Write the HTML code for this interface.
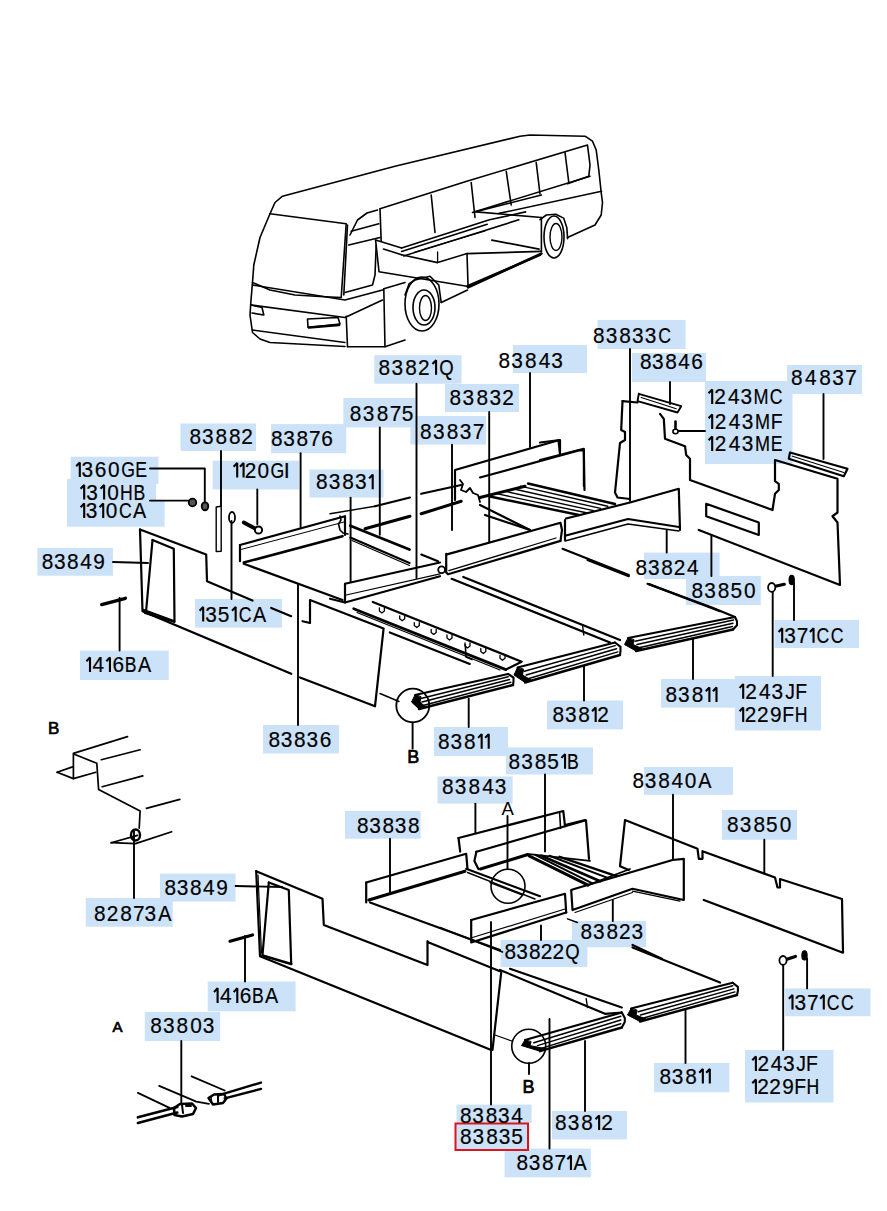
<!DOCTYPE html><html><head><meta charset="utf-8"><style>html,body{margin:0;padding:0;background:#fff;width:887px;height:1211px;overflow:hidden}svg{display:block}text{font-family:"Liberation Sans",sans-serif;font-size:21.5px;fill:#000;stroke:#000;stroke-width:0.2px}</style></head><body>
<svg width="887" height="1211" viewBox="0 0 887 1211">
<rect width="887" height="1211" fill="#fff"/>
<g fill="#cce2f9">
<rect x="374.3" y="355.2" width="87.2" height="28.5"/>
<rect x="513.0" y="345.0" width="74.0" height="28.0"/>
<rect x="597.6" y="320.0" width="87.9" height="29.0"/>
<rect x="632.0" y="353.0" width="74.0" height="29.0"/>
<rect x="705.0" y="381.0" width="87.5" height="83.0"/>
<rect x="787.0" y="365.0" width="75.0" height="29.0"/>
<rect x="445.0" y="384.0" width="74.0" height="28.0"/>
<rect x="343.4" y="398.0" width="71.8" height="29.4"/>
<rect x="410.4" y="416.0" width="75.6" height="28.6"/>
<rect x="180.5" y="423.5" width="75.5" height="27.5"/>
<rect x="271.1" y="424.1" width="75.1" height="29.1"/>
<rect x="309.5" y="469.5" width="74.1" height="28.1"/>
<rect x="70.6" y="456.7" width="87.9" height="27.3"/>
<rect x="67.0" y="479.0" width="89.0" height="26.0"/>
<rect x="67.0" y="500.0" width="97.6" height="26.7"/>
<rect x="212.6" y="460.7" width="86.4" height="28.8"/>
<rect x="37.4" y="548.0" width="75.5" height="27.7"/>
<rect x="644.0" y="552.6" width="75.6" height="26.4"/>
<rect x="686.0" y="576.0" width="74.8" height="29.0"/>
<rect x="195.0" y="599.0" width="87.0" height="28.6"/>
<rect x="774.5" y="620.0" width="84.5" height="28.0"/>
<rect x="80.0" y="650.6" width="88.7" height="29.4"/>
<rect x="734.8" y="676.0" width="86.2" height="54.5"/>
<rect x="661.0" y="679.0" width="75.6" height="28.7"/>
<rect x="547.0" y="700.5" width="76.0" height="28.9"/>
<rect x="263.0" y="725.0" width="76.0" height="28.5"/>
<rect x="434.0" y="727.0" width="74.0" height="29.0"/>
<rect x="506.0" y="747.4" width="87.0" height="27.1"/>
<rect x="437.5" y="776.5" width="75.1" height="27.1"/>
<rect x="644.0" y="767.0" width="89.0" height="27.8"/>
<rect x="345.0" y="811.0" width="75.6" height="27.7"/>
<rect x="722.0" y="810.0" width="75.0" height="29.8"/>
<rect x="160.0" y="873.6" width="75.6" height="28.0"/>
<rect x="85.8" y="898.0" width="86.9" height="28.7"/>
<rect x="572.0" y="921.0" width="74.0" height="26.3"/>
<rect x="500.5" y="940.0" width="86.9" height="27.0"/>
<rect x="207.7" y="981.5" width="87.9" height="29.8"/>
<rect x="785.2" y="988.4" width="85.3" height="27.8"/>
<rect x="144.8" y="1012.0" width="75.4" height="29.0"/>
<rect x="654.0" y="1063.0" width="75.4" height="29.3"/>
<rect x="745.0" y="1050.0" width="88.5" height="52.5"/>
<rect x="456.5" y="1104.6" width="75.1" height="18.4"/>
<rect x="552.0" y="1111.0" width="75.0" height="28.4"/>
<rect x="504.5" y="1148.6" width="86.3" height="28.7"/>
</g>
<rect x="455.5" y="1123.5" width="72.5" height="26.5" fill="#cce2f9" stroke="#e0151b" stroke-width="2"/>
<g stroke="#000" fill="none" stroke-linecap="round" stroke-linejoin="round">
<polyline points="416.5,383.7 416.5,578.0" stroke-width="1.9"/>
<polyline points="530.0,373.0 530.0,447.0" stroke-width="1.9"/>
<polyline points="630.0,349.0 630.0,501.0" stroke-width="1.9"/>
<polyline points="670.0,382.0 670.0,404.0" stroke-width="1.9"/>
<polyline points="678.0,431.0 705.0,431.0" stroke-width="1.9"/>
<polyline points="823.5,394.0 823.5,459.0" stroke-width="1.9"/>
<polyline points="489.2,412.0 489.2,541.7" stroke-width="1.9"/>
<polyline points="379.8,427.4 379.8,534.8" stroke-width="1.9"/>
<polyline points="452.0,444.6 452.0,530.0" stroke-width="1.9"/>
<polyline points="221.0,451.0 221.0,506.0" stroke-width="1.9"/>
<polyline points="300.6,453.2 300.6,527.0" stroke-width="1.9"/>
<polyline points="350.6,497.6 350.6,582.0" stroke-width="1.9"/>
<polyline points="150.0,468.5 204.8,468.5 204.8,501.0" stroke-width="1.9"/>
<polyline points="150.0,500.6 189.0,500.6" stroke-width="1.9"/>
<polyline points="257.3,489.5 257.3,524.4" stroke-width="1.9"/>
<polyline points="113.0,562.0 148.0,563.0" stroke-width="1.9"/>
<polyline points="666.7,552.6 666.7,530.0" stroke-width="1.9"/>
<polyline points="711.4,576.0 711.4,535.0" stroke-width="1.9"/>
<polyline points="231.5,599.0 231.5,521.0" stroke-width="1.9"/>
<polyline points="794.0,620.0 794.0,582.6" stroke-width="1.9"/>
<polyline points="119.6,650.6 119.6,598.0" stroke-width="1.9"/>
<polyline points="772.7,676.0 772.7,588.7" stroke-width="1.9"/>
<polyline points="693.0,679.0 693.0,639.0" stroke-width="1.9"/>
<polyline points="584.0,700.5 584.0,666.0" stroke-width="1.9"/>
<polyline points="298.0,725.0 298.0,584.0" stroke-width="1.9"/>
<polyline points="468.7,727.0 468.7,698.7" stroke-width="1.9"/>
<polyline points="412.6,722.4 412.6,748.5" stroke-width="1.9"/>
<polyline points="545.0,774.5 545.0,851.6" stroke-width="1.9"/>
<polyline points="475.4,803.6 475.4,833.0" stroke-width="1.9"/>
<polyline points="390.0,838.7 390.0,892.0" stroke-width="1.9"/>
<polyline points="507.5,816.0 507.5,869.0" stroke-width="1.9"/>
<polyline points="673.0,794.8 673.0,859.0" stroke-width="1.9"/>
<polyline points="764.3,839.8 764.3,873.6" stroke-width="1.9"/>
<polyline points="235.6,886.0 282.0,887.0" stroke-width="1.9"/>
<polyline points="134.0,898.0 134.0,830.6" stroke-width="1.9"/>
<polyline points="612.8,921.0 612.8,900.0" stroke-width="1.9"/>
<polyline points="541.0,940.0 541.0,925.4" stroke-width="1.9"/>
<polyline points="245.0,981.5 245.0,936.0" stroke-width="1.9"/>
<polyline points="807.1,988.4 807.1,958.4" stroke-width="1.9"/>
<polyline points="783.2,1050.0 783.2,960.4" stroke-width="1.9"/>
<polyline points="181.3,1041.0 181.3,1103.0" stroke-width="1.9"/>
<polyline points="685.5,1063.0 685.5,1010.0" stroke-width="1.9"/>
<polyline points="491.0,1104.6 491.0,922.0" stroke-width="1.9"/>
<polyline points="585.0,1111.0 585.0,1041.0" stroke-width="1.9"/>
<polyline points="549.5,1148.6 549.5,1019.0" stroke-width="1.9"/>
<polyline points="529.0,1063.0 529.0,1074.0" stroke-width="1.9"/>
<polyline points="140.0,529.5 206.2,554.5 207.0,581.2 252.5,600.5" stroke-width="2.2"/>
<polyline points="271.2,608.0 291.2,616.2" stroke-width="2.2"/>
<polyline points="302.5,621.2 310.0,623.0 310.0,600.0 383.6,628.5 375.0,706.3 300.0,677.5" stroke-width="2.2"/>
<polyline points="140.0,529.5 142.5,611.2 291.2,673.8" stroke-width="2.2"/>
<polyline points="152.5,540.0 173.8,548.8 174.5,621.2 143.8,610.0" stroke-width="2.2"/>
<polyline points="152.5,540.0 146.2,610.0" stroke-width="2.2"/>
<polyline points="145.0,613.0 174.5,622.0" stroke-width="2.2"/>
<polyline points="240.0,545.0 345.0,516.2 345.0,535.0" stroke-width="2.2"/>
<polyline points="240.0,545.0 240.0,561.2" stroke-width="2.2"/>
<polyline points="243.8,562.5 342.5,536.2" stroke-width="2.6"/>
<polyline points="241.0,549.5 344.0,522.0" stroke-width="1.0"/>
<polyline points="243.8,563.8 342.5,600.0" stroke-width="2.2"/>
<polyline points="243.8,522.5 256.0,529.0" stroke-width="3.8"/>
<polyline points="216.2,507.0 221.2,506.2 221.2,551.2 216.2,551.5 216.2,507.0" stroke-width="1.4"/>
<polyline points="330.0,513.8 375.0,506.2" stroke-width="1.4"/>
<polyline points="375.0,506.2 410.0,497.5" stroke-width="2.2"/>
<polyline points="365.0,528.8 410.0,516.2" stroke-width="3.0"/>
<polyline points="421.2,493.8 461.2,485.0" stroke-width="2.2"/>
<polyline points="421.2,513.8 461.2,501.2" stroke-width="3.0"/>
<polyline points="350.3,525.8 409.5,549.5" stroke-width="2.8"/>
<polyline points="350.3,537.6 409.5,563.0" stroke-width="2.2"/>
<polyline points="352.0,540.5 409.5,565.5" stroke-width="1.2"/>
<polyline points="421.3,554.6 438.0,561.3" stroke-width="2.2"/>
<polyline points="340.0,516.0 341.0,520.0 338.5,524.0 340.0,530.0 343.0,533.0 348.0,534.0" stroke-width="1.6"/>
<polyline points="460.0,480.0 463.0,484.0 461.0,490.0 466.0,492.0 470.0,488.0 473.0,493.0 478.0,495.0 480.0,502.0" stroke-width="1.8"/>
<polyline points="345.0,583.8 440.0,562.5" stroke-width="2.2"/>
<polyline points="345.0,583.8 345.0,602.5 440.0,576.2" stroke-width="2.2"/>
<polyline points="346.2,595.0 440.0,573.8" stroke-width="1.2"/>
<polyline points="330.0,598.8 345.0,602.5" stroke-width="2.2"/>
<polyline points="447.0,554.4 560.5,522.8 562.0,530.0 560.5,540.9" stroke-width="2.2"/>
<polyline points="446.2,553.8 446.2,572.5 448.0,574.3 560.5,540.9" stroke-width="2.2"/>
<polyline points="448.9,570.7 556.0,538.0" stroke-width="1.3"/>
<polyline points="455.0,500.0 455.0,470.0 558.5,440.3 560.0,453.8" stroke-width="2.2"/>
<polyline points="480.0,477.5 578.8,450.4 583.9,450.4 583.9,486.0" stroke-width="2.2"/>
<polyline points="480.0,497.5 525.0,486.2" stroke-width="3.0"/>
<polyline points="480.0,505.0 530.0,530.0" stroke-width="2.2"/>
<polyline points="485.0,515.0 530.0,530.0" stroke-width="2.2"/>
<polyline points="353.7,608.7 505.9,669.6" stroke-width="2.8"/>
<polyline points="357.0,612.5 500.0,670.0" stroke-width="1.2"/>
<polyline points="372.8,601.9 521.7,661.7 505.9,669.6" stroke-width="2.2"/>
<polyline points="389.8,632.4 469.8,663.9" stroke-width="2.2"/>
<polyline points="379.4,607.9 379.4,610.9 381.9,612.9 384.4,610.9 384.4,607.9" stroke-width="1.3"/>
<polyline points="399.7,615.8 399.7,618.8 402.2,620.8 404.7,618.8 404.7,615.8" stroke-width="1.3"/>
<polyline points="414.3,622.6 414.3,625.6 416.8,627.6 419.3,625.6 419.3,622.6" stroke-width="1.3"/>
<polyline points="431.2,629.4 431.2,632.4 433.7,634.4 436.2,632.4 436.2,629.4" stroke-width="1.3"/>
<polyline points="447.0,635.0 447.0,638.0 449.5,640.0 452.0,638.0 452.0,635.0" stroke-width="1.3"/>
<polyline points="465.0,642.9 465.0,645.9 467.5,647.9 470.0,645.9 470.0,642.9" stroke-width="1.3"/>
<polyline points="480.8,648.5 480.8,651.5 483.3,653.5 485.8,651.5 485.8,648.5" stroke-width="1.3"/>
<polyline points="500.0,655.3 500.0,658.3 502.5,660.3 505.0,658.3 505.0,655.3" stroke-width="1.3"/>
<polyline points="465.3,644.8 466.0,657.0 472.0,659.4" stroke-width="1.6"/>
<polyline points="622.5,401.2 621.2,430.0 625.0,432.0 625.0,440.0 620.0,443.0 615.0,492.5 617.5,497.5 630.0,499.0" stroke-width="2.2"/>
<polyline points="622.5,401.2 637.5,402.5" stroke-width="2.2"/>
<polyline points="660.0,413.8 663.8,418.8 665.0,438.8 685.0,446.2 686.2,455.0 690.0,458.8 690.0,480.0 772.5,510.0 775.0,493.8 778.8,490.0 778.8,483.8 775.0,481.2 775.0,460.0 837.5,478.8 837.5,512.5 832.5,516.2 837.5,522.5 840.0,585.0 698.8,530.0" stroke-width="2.2"/>
<polyline points="638.8,393.8 681.2,406.2 677.5,412.5 637.5,401.2 638.8,393.8" stroke-width="1.9"/>
<polyline points="641.2,397.5 676.2,408.8" stroke-width="1.2"/>
<polyline points="675.5,421.5 675.5,430.0" stroke-width="2.6"/>
<polyline points="566.0,518.5 630.0,502.5 678.8,488.8 680.0,530.0" stroke-width="2.2"/>
<polyline points="566.0,535.5 628.0,519.0 679.0,527.0" stroke-width="2.2"/>
<polyline points="565.0,541.0 628.0,524.0 679.0,531.0" stroke-width="1.4"/>
<polyline points="565.0,520.0 565.0,540.0" stroke-width="2.2"/>
<polyline points="706.2,503.8 758.8,522.5 758.8,535.0 706.2,516.2 706.2,503.8" stroke-width="2.2"/>
<polyline points="562.5,548.8 628.8,575.0" stroke-width="2.2"/>
<polyline points="648.9,584.1 720.0,611.2" stroke-width="2.2"/>
<polyline points="540.0,442.5 560.0,440.0 560.0,452.5" stroke-width="2.2"/>
<polyline points="540.0,460.0 583.8,448.8 584.5,490.0" stroke-width="2.2"/>
<polyline points="528.0,483.5 615.0,504.0" stroke-width="2.4"/>
<polyline points="520.4,486.1 607.8,506.2" stroke-width="1.4"/>
<polyline points="512.8,488.7 600.6,508.4" stroke-width="1.4"/>
<polyline points="505.2,491.3 593.4,510.6" stroke-width="1.4"/>
<polyline points="497.6,493.9 586.2,512.8" stroke-width="1.4"/>
<polyline points="490.0,496.5 579.0,515.0" stroke-width="2.4"/>
<polyline points="790.0,452.5 847.5,468.8 843.8,476.2 788.8,458.8 790.0,452.5" stroke-width="2.2"/>
<polyline points="792.5,456.2 843.8,472.5" stroke-width="1.2"/>
<polyline points="517.5,667.5 615.0,642.5" stroke-width="2.1"/>
<polyline points="525.0,682.5 620.0,655.0" stroke-width="2.4"/>
<polyline points="524.4,671.2 615.2,645.6" stroke-width="1.5"/>
<polyline points="526.2,675.0 616.5,648.8" stroke-width="1.5"/>
<polyline points="528.1,678.8 617.8,651.9" stroke-width="1.5"/>
<polyline points="615.0,642.5 620.5,646.8 620.5,650.8 620.0,655.0" stroke-width="2.1"/>
<polyline points="628.0,638.0 735.0,617.0" stroke-width="2.1"/>
<polyline points="636.0,651.0 733.0,629.5" stroke-width="2.4"/>
<polyline points="635.0,641.2 733.5,620.1" stroke-width="1.5"/>
<polyline points="637.0,644.5 733.0,623.2" stroke-width="1.5"/>
<polyline points="639.0,647.8 732.5,626.4" stroke-width="1.5"/>
<polyline points="735.0,617.0 737.0,621.2 737.0,625.2 733.0,629.5" stroke-width="2.1"/>
<polyline points="415.0,695.0 508.0,674.0" stroke-width="2.1"/>
<polyline points="419.0,709.0 513.0,685.0" stroke-width="2.4"/>
<polyline points="421.0,698.5 508.2,676.8" stroke-width="1.5"/>
<polyline points="422.0,702.0 509.5,679.5" stroke-width="1.5"/>
<polyline points="423.0,705.5 510.8,682.2" stroke-width="1.5"/>
<polyline points="508.0,674.0 513.5,677.5 513.5,681.5 513.0,685.0" stroke-width="2.1"/>
<polyline points="463.3,577.0 620.0,640.0" stroke-width="2.2"/>
<polyline points="451.6,578.8 610.0,642.5" stroke-width="2.2"/>
<polyline points="582.5,625.0 583.8,635.0" stroke-width="1.4"/>
<polyline points="587.5,560.0 628.8,576.2" stroke-width="2.2"/>
<polyline points="647.5,583.8 711.8,607.5 735.0,617.0" stroke-width="2.2"/>
<polyline points="772.0,587.0 784.3,584.3" stroke-width="3.2"/>
<polyline points="783.0,960.4 795.4,956.4" stroke-width="3.2"/>
<polyline points="57.1,772.3 72.5,766.9" stroke-width="1.7"/>
<polyline points="57.1,772.3 73.4,778.6 95.9,772.3" stroke-width="1.7"/>
<polyline points="73.4,778.6 73.4,753.4 127.5,736.6" stroke-width="1.7"/>
<polyline points="74.3,754.3 96.8,763.3 98.6,789.4 140.1,811.1 139.2,828.2" stroke-width="1.7"/>
<polyline points="101.3,759.7 140.1,749.8" stroke-width="1.7"/>
<polyline points="102.2,786.7 142.8,775.9" stroke-width="1.7"/>
<polyline points="146.4,808.4 179.8,799.4" stroke-width="1.7"/>
<polyline points="111.2,842.7 137.4,835.4" stroke-width="1.7"/>
<polyline points="111.2,842.7 135.6,843.6 171.7,831.8" stroke-width="1.7"/>
<polyline points="101.7,604.6 125.4,598.3" stroke-width="3.4"/>
<polyline points="380.0,693.5 399.0,701.5" stroke-width="1.5"/>
<polyline points="256.2,871.2 322.5,898.8 323.8,925.0 427.5,965.0 427.5,941.2 428.8,942.5 500.0,971.2" stroke-width="2.2"/>
<polyline points="256.2,871.2 260.0,956.2 491.2,1050.0" stroke-width="2.2"/>
<polyline points="268.8,882.5 288.8,890.0 291.2,963.8" stroke-width="2.2"/>
<polyline points="268.8,882.5 262.5,955.0" stroke-width="2.2"/>
<polyline points="262.5,955.5 291.2,964.0" stroke-width="2.6"/>
<polyline points="258.0,875.0 261.5,953.0" stroke-width="1.2"/>
<polyline points="501.2,972.5 492.5,1050.0" stroke-width="2.2"/>
<polyline points="230.0,941.2 252.5,935.0" stroke-width="3.2"/>
<polyline points="366.2,882.5 466.2,853.8 467.5,868.8" stroke-width="2.2"/>
<polyline points="366.2,882.5 366.2,902.5" stroke-width="2.2"/>
<polyline points="368.8,900.0 465.0,871.2" stroke-width="3.0"/>
<polyline points="370.0,902.5 500.0,950.0" stroke-width="2.2"/>
<polyline points="458.5,838.0 563.3,811.0 565.0,826.2" stroke-width="2.2"/>
<polyline points="458.5,838.0 460.2,851.6" stroke-width="2.2"/>
<polyline points="476.4,851.7 586.0,820.3 589.0,858.8" stroke-width="2.2"/>
<polyline points="476.4,851.7 474.4,860.9 478.4,869.0" stroke-width="2.2"/>
<polyline points="480.4,869.0 527.1,854.8" stroke-width="3.0"/>
<polyline points="527.1,853.8 590.0,860.9" stroke-width="1.8"/>
<polyline points="529.1,855.8 588.0,885.2" stroke-width="3.0"/>
<polyline points="535.2,854.8 592.0,883.2" stroke-width="2.0"/>
<polyline points="541.3,855.8 600.2,881.2" stroke-width="2.6"/>
<polyline points="549.4,855.8 608.3,878.1" stroke-width="2.0"/>
<polyline points="559.6,856.8 616.4,876.1" stroke-width="2.4"/>
<polyline points="588.0,885.2 630.0,869.0" stroke-width="1.8"/>
<polyline points="559.6,812.2 560.6,828.4" stroke-width="1.6"/>
<polyline points="466.2,868.8 540.0,896.2" stroke-width="2.2"/>
<polyline points="467.5,872.5 535.0,899.0" stroke-width="1.4"/>
<polyline points="490.0,882.5 522.5,895.0" stroke-width="1.4"/>
<polyline points="471.2,920.0 565.0,893.8 566.2,912.5" stroke-width="2.2"/>
<polyline points="471.2,920.0 471.2,942.5 566.2,912.5" stroke-width="2.2"/>
<polyline points="472.5,937.5 565.0,909.0" stroke-width="1.2"/>
<polyline points="571.2,890.0 575.0,888.8 672.5,860.0 683.8,858.8 683.8,900.0 632.5,888.8 572.5,910.0 571.2,890.0" stroke-width="2.2"/>
<polyline points="632.5,891.2 680.0,901.2" stroke-width="1.2"/>
<polyline points="575.0,912.5 632.5,892.5" stroke-width="1.2"/>
<polyline points="628.8,870.0 620.0,866.2 625.0,820.0 697.5,848.8 698.8,858.8 702.5,858.8 702.5,851.2 775.0,877.5 777.5,887.5 780.0,887.5 780.0,879.0 842.0,899.0 843.0,952.7 703.8,900.0" stroke-width="2.2"/>
<polyline points="585.0,820.0 565.0,825.0" stroke-width="2.2"/>
<polyline points="440.0,927.5 502.5,952.0" stroke-width="1.6"/>
<polyline points="500.0,970.0 605.0,1013.8 621.8,1012.5" stroke-width="2.2"/>
<polyline points="510.0,968.8 621.8,1007.5" stroke-width="2.2"/>
<polyline points="586.2,998.8 587.5,1007.5" stroke-width="1.4"/>
<polyline points="632.5,947.5 720.0,982.5" stroke-width="2.2"/>
<polyline points="632.5,945.0 661.8,958.8" stroke-width="2.2"/>
<polyline points="567.5,918.8 577.5,922.5" stroke-width="1.4"/>
<polyline points="495.0,1035.0 512.5,1041.2" stroke-width="1.2"/>
<polyline points="525.0,1040.0 621.8,1012.5" stroke-width="2.1"/>
<polyline points="540.0,1051.2 621.8,1027.5" stroke-width="2.4"/>
<polyline points="533.8,1042.8 620.8,1016.2" stroke-width="1.5"/>
<polyline points="537.5,1045.6 620.8,1020.0" stroke-width="1.5"/>
<polyline points="541.2,1048.4 620.8,1023.8" stroke-width="1.5"/>
<polyline points="621.8,1012.5 624.8,1018.0 624.8,1022.0 621.8,1027.5" stroke-width="2.1"/>
<polyline points="631.0,1008.5 732.7,982.7" stroke-width="2.1"/>
<polyline points="640.0,1021.5 737.0,995.0" stroke-width="2.4"/>
<polyline points="638.2,1011.8 732.8,985.8" stroke-width="1.5"/>
<polyline points="640.5,1015.0 733.9,988.9" stroke-width="1.5"/>
<polyline points="642.8,1018.2 734.9,991.9" stroke-width="1.5"/>
<polyline points="732.7,982.7 737.9,986.9 737.9,990.9 737.0,995.0" stroke-width="2.1"/>
<polyline points="137.9,1117.3 177.3,1107.1" stroke-width="2.6"/>
<polyline points="137.9,1122.9 177.3,1112.6" stroke-width="2.6"/>
<polyline points="137.9,1092.9 169.5,1107.9" stroke-width="1.8"/>
<polyline points="159.2,1085.8 196.3,1101.6 208.9,1103.9" stroke-width="1.8"/>
<polyline points="191.6,1076.3 224.7,1090.5" stroke-width="1.8"/>
<polyline points="218.4,1095.3 261.0,1082.6" stroke-width="2.4"/>
<polyline points="224.7,1098.4 261.0,1088.9" stroke-width="2.4"/>
<polyline points="174.0,1108.0 180.0,1104.0 192.0,1103.5 196.0,1108.0 193.0,1114.0 182.0,1116.5 174.5,1115.0 174.0,1108.0" stroke-width="2.6"/>
<polyline points="182.0,1105.0 183.0,1113.0" stroke-width="2.0"/>
<polyline points="186.0,1106.0 191.0,1106.0" stroke-width="2.0"/>
<polyline points="208.5,1098.0 214.0,1094.5 224.0,1094.0 226.5,1098.5 223.0,1103.0 213.0,1104.5 208.5,1098.0" stroke-width="2.4"/>
<polyline points="218.0,1095.5 218.0,1102.0" stroke-width="2.0"/>
<polyline points="211.0,1097.0 211.5,1101.5" stroke-width="1.4"/>
<polyline points="270.0,213.8 275.0,202.5 282.5,196.2 395.0,166.2 520.0,136.2 530.0,135.0 585.0,136.2 592.5,141.2 596.2,150.0 598.8,170.0 601.2,192.5 602.5,202.5 601.2,215.0 595.0,225.0 567.5,237.5" stroke-width="1.6"/>
<polyline points="380.0,208.8 466.8,181.2 587.5,145.0 590.0,165.0 588.8,176.2 567.5,183.8" stroke-width="1.6"/>
<polyline points="472.5,212.5 590.0,176.2" stroke-width="1.6"/>
<polyline points="499.0,213.4 601.5,191.3" stroke-width="1.6"/>
<polyline points="431.2,195.0 435.0,232.5" stroke-width="1.6"/>
<polyline points="471.2,182.5 475.0,217.5" stroke-width="1.6"/>
<polyline points="506.2,171.2 511.2,205.0" stroke-width="1.6"/>
<polyline points="536.2,162.5 540.0,193.8" stroke-width="1.6"/>
<polyline points="565.0,152.5 568.8,182.5" stroke-width="1.6"/>
<polyline points="270.0,213.8 346.2,223.8 341.2,297.5 320.0,296.5 295.0,295.0 270.0,290.0 252.5,282.5" stroke-width="1.6"/>
<polyline points="270.0,213.8 260.0,237.5 253.8,265.0 252.5,282.5 251.0,300.0 250.0,315.0 252.5,332.5 260.0,339.0 270.0,342.5 345.0,346.5" stroke-width="1.6"/>
<polyline points="347.5,225.0 343.8,295.0" stroke-width="1.6"/>
<polyline points="350.0,235.0 357.5,220.0 367.0,213.0 377.5,210.0" stroke-width="1.6"/>
<polyline points="351.2,231.2 378.8,223.8" stroke-width="1.6"/>
<polyline points="348.8,245.0 380.0,237.5" stroke-width="1.6"/>
<polyline points="345.0,292.5 372.5,285.0 375.0,275.0 376.2,245.0" stroke-width="1.6"/>
<polyline points="380.0,208.8 381.2,241.2" stroke-width="1.6"/>
<polyline points="252.5,285.0 345.0,300.0 382.5,290.0" stroke-width="1.6"/>
<polyline points="251.2,305.0 345.0,317.5 382.5,300.0" stroke-width="1.6"/>
<polyline points="252.5,330.0 345.0,342.5" stroke-width="1.6"/>
<polyline points="346.2,316.2 347.5,346.8" stroke-width="1.6"/>
<polyline points="251.2,305.0 262.0,307.5 263.8,315.0 252.0,313.0" stroke-width="1.6"/>
<polyline points="307.5,319.0 338.0,317.5 340.0,324.0 308.0,327.5 307.5,319.0" stroke-width="1.6"/>
<polyline points="309.0,327.5 339.0,325.0" stroke-width="2.6"/>
<polyline points="383.8,288.8 385.0,346.8" stroke-width="1.6"/>
<polyline points="383.8,288.8 405.0,282.5" stroke-width="1.6"/>
<polyline points="347.5,346.8 385.0,346.8 405.0,340.0" stroke-width="1.6"/>
<polyline points="405.0,295.0 409.0,284.0 415.0,280.0 430.0,276.2 438.8,285.0 441.2,302.5" stroke-width="1.6"/>
<polyline points="441.2,302.5 467.5,290.0" stroke-width="1.6"/>
<polyline points="467.5,286.2 540.0,255.0" stroke-width="2.4"/>
<polyline points="540.0,219.7 546.3,215.0 555.8,214.2 563.6,218.1 566.8,227.6 567.6,238.6" stroke-width="1.6"/>
<polyline points="375.6,240.1 379.0,271.7 467.0,286.3" stroke-width="1.6"/>
<polyline points="375.6,240.1 401.6,248.0" stroke-width="1.6"/>
<polyline points="383.5,249.1 401.6,254.8" stroke-width="1.6"/>
<polyline points="401.6,248.0 489.5,219.8 525.6,211.9" stroke-width="1.6"/>
<polyline points="401.6,251.4 487.2,224.3" stroke-width="1.6"/>
<polyline points="403.8,255.9 518.8,219.8" stroke-width="1.6"/>
<polyline points="415.0,252.0 485.0,231.0" stroke-width="1.3"/>
<polyline points="401.6,254.8 437.6,262.6 467.0,253.6 541.4,251.4" stroke-width="1.6"/>
<polyline points="467.0,253.6 468.1,287.4" stroke-width="1.6"/>
<polyline points="468.1,287.4 541.4,253.6" stroke-width="2.6"/>
<polyline points="491.8,240.1 539.1,249.1" stroke-width="1.6"/>
<polyline points="476.0,211.9 541.4,217.5" stroke-width="1.6"/>
<polyline points="541.4,217.5 541.4,251.4" stroke-width="1.6"/>
<polyline points="437.6,262.6 437.6,252.0" stroke-width="1.3"/>
<polyline points="474.8,211.9 541.4,195.0" stroke-width="1.6"/>
<polygon points="517.5,667.5 514.0,675.0 525.0,682.5 531.0,680.0 522.5,675.0 523.5,669.5" fill="#000" stroke-width="1"/>
<polygon points="628.0,638.0 624.5,644.5 636.0,651.0 642.0,648.5 633.0,644.5 634.0,640.0" fill="#000" stroke-width="1"/>
<polygon points="415.0,695.0 411.5,702.0 419.0,709.0 425.0,706.5 420.0,702.0 421.0,697.0" fill="#000" stroke-width="1"/>
<polygon points="525.0,1040.0 521.5,1045.6 540.0,1051.2 546.0,1048.8 530.0,1045.6 531.0,1042.0" fill="#000" stroke-width="1"/>
<polygon points="631.0,1008.5 627.5,1015.0 640.0,1021.5 646.0,1019.0 636.0,1015.0 637.0,1010.5" fill="#000" stroke-width="1"/>
<ellipse cx="192.5" cy="502.5" rx="3.8" ry="3.8" stroke-width="1.8" fill="#555"/>
<ellipse cx="205" cy="506.25" rx="3.3" ry="4" stroke-width="1.8" fill="#555"/>
<ellipse cx="232" cy="517.5" rx="3" ry="5.5" stroke-width="1.8" fill="none"/>
<ellipse cx="258.5" cy="530" rx="3.6" ry="3.6" stroke-width="2" fill="#fff"/>
<ellipse cx="441.6" cy="569.8" rx="3.4" ry="3.4" stroke-width="1.8" fill="none"/>
<ellipse cx="675.5" cy="431.5" rx="2.6" ry="2.2" stroke-width="1.6" fill="#fff"/>
<ellipse cx="771.7" cy="587.4" rx="3.6" ry="4.4" stroke-width="1.8" fill="#fff"/>
<ellipse cx="791.7" cy="580" rx="2.6" ry="4.6" stroke-width="1.2" fill="#000"/>
<ellipse cx="412.8" cy="705.5" rx="16.5" ry="16.8" stroke-width="1.8" fill="none"/>
<ellipse cx="135.5" cy="835" rx="4.5" ry="5.5" stroke-width="2.4" fill="none"/>
<ellipse cx="508" cy="886.25" rx="17" ry="17" stroke-width="1.6" fill="none"/>
<ellipse cx="528.75" cy="1046.25" rx="17" ry="17" stroke-width="1.6" fill="none"/>
<ellipse cx="804.5" cy="955.4" rx="2.6" ry="4.6" stroke-width="1.2" fill="#000"/>
<ellipse cx="783" cy="960.4" rx="3.6" ry="4.4" stroke-width="1.8" fill="#fff"/>
<ellipse cx="422" cy="304" rx="17" ry="27" stroke-width="1.6" fill="none"/>
<ellipse cx="424" cy="307.5" rx="11" ry="17.5" stroke-width="1.6" fill="none"/>
<ellipse cx="425.5" cy="308" rx="6" ry="12.5" stroke-width="1.4" fill="none"/>
<ellipse cx="554" cy="237" rx="10" ry="21" stroke-width="1.6" fill="none"/>
<ellipse cx="556" cy="237" rx="6" ry="13.5" stroke-width="1.4" fill="none"/>
</g>
<text x="407.2" y="762.5" style="font-size:18px;font-weight:normal;stroke-width:0.7px">B</text>
<text x="48" y="733.5" style="font-size:17px;font-weight:normal;stroke-width:0.7px">B</text>
<text x="522.5" y="1092.5" style="font-size:18px;font-weight:normal;stroke-width:0.7px">B</text>
<text x="501.5" y="815" style="font-size:18.5px;font-weight:normal;stroke-width:0px">A</text>
<text x="112.5" y="1031.6" style="font-size:15px;font-weight:normal;stroke-width:0.7px">A</text>
<g>
<text transform="translate(378.60 374.8) scale(0.97 1)">8</text>
<text transform="translate(391.43 374.8) scale(0.97 1)">3</text>
<text transform="translate(405.24 374.8) scale(0.97 1)">8</text>
<text transform="translate(418.07 374.8) scale(0.97 1)">2</text>
<path d="M436.08 374.80V360.20L432.48 364.00" stroke="#000" stroke-width="2.1" fill="none" stroke-linejoin="bevel"/>
<text transform="translate(439.24 374.8) scale(0.86 1)">Q</text>
<text transform="translate(498.60 368.0) scale(0.97 1)">8</text>
<text transform="translate(511.30 368.0) scale(0.97 1)">3</text>
<text transform="translate(524.98 368.0) scale(0.97 1)">8</text>
<text transform="translate(538.65 368.0) scale(0.97 1)">4</text>
<text transform="translate(551.36 368.0) scale(0.97 1)">3</text>
<text transform="translate(593.00 343.0) scale(0.97 1)">8</text>
<text transform="translate(605.67 343.0) scale(0.97 1)">3</text>
<text transform="translate(619.31 343.0) scale(0.97 1)">8</text>
<text transform="translate(631.99 343.0) scale(0.97 1)">3</text>
<text transform="translate(644.66 343.0) scale(0.97 1)">3</text>
<text transform="translate(658.30 343.0) scale(0.82 1)">C</text>
<text transform="translate(640.00 369.0) scale(0.97 1)">8</text>
<text transform="translate(652.11 369.0) scale(0.97 1)">3</text>
<text transform="translate(665.19 369.0) scale(0.97 1)">8</text>
<text transform="translate(678.28 369.0) scale(0.97 1)">4</text>
<text transform="translate(691.36 369.0) scale(0.97 1)">6</text>
<path d="M712.20 404.00V389.40L708.60 393.20" stroke="#000" stroke-width="2.1" fill="none" stroke-linejoin="bevel"/>
<text transform="translate(714.25 404.0) scale(0.97 1)">2</text>
<text transform="translate(727.90 404.0) scale(0.97 1)">4</text>
<text transform="translate(740.59 404.0) scale(0.97 1)">3</text>
<text transform="translate(753.40 404.0) scale(0.84 1)">M</text>
<text transform="translate(769.70 404.0) scale(0.82 1)">C</text>
<path d="M712.20 429.00V414.40L708.60 418.20" stroke="#000" stroke-width="2.1" fill="none" stroke-linejoin="bevel"/>
<text transform="translate(714.63 429.0) scale(0.97 1)">2</text>
<text transform="translate(728.67 429.0) scale(0.97 1)">4</text>
<text transform="translate(741.74 429.0) scale(0.97 1)">3</text>
<text transform="translate(754.94 429.0) scale(0.84 1)">M</text>
<text transform="translate(770.72 429.0) scale(0.90 1)">F</text>
<path d="M712.20 451.00V436.40L708.60 440.20" stroke="#000" stroke-width="2.1" fill="none" stroke-linejoin="bevel"/>
<text transform="translate(714.63 451.0) scale(0.97 1)">2</text>
<text transform="translate(728.67 451.0) scale(0.97 1)">4</text>
<text transform="translate(741.74 451.0) scale(0.97 1)">3</text>
<text transform="translate(754.94 451.0) scale(0.84 1)">M</text>
<text transform="translate(770.80 451.0) scale(0.82 1)">E</text>
<text transform="translate(791.00 385.0) scale(0.97 1)">8</text>
<text transform="translate(805.07 385.0) scale(0.97 1)">4</text>
<text transform="translate(819.13 385.0) scale(0.97 1)">8</text>
<text transform="translate(832.23 385.0) scale(0.97 1)">3</text>
<text transform="translate(845.33 385.0) scale(0.97 1)">7</text>
<text transform="translate(449.60 405.0) scale(0.97 1)">8</text>
<text transform="translate(462.55 405.0) scale(0.97 1)">3</text>
<text transform="translate(476.47 405.0) scale(0.97 1)">8</text>
<text transform="translate(489.41 405.0) scale(0.97 1)">3</text>
<text transform="translate(502.36 405.0) scale(0.97 1)">2</text>
<text transform="translate(349.70 420.7) scale(0.97 1)">8</text>
<text transform="translate(362.69 420.7) scale(0.97 1)">3</text>
<text transform="translate(376.65 420.7) scale(0.97 1)">8</text>
<text transform="translate(389.64 420.7) scale(0.97 1)">7</text>
<text transform="translate(401.66 420.7) scale(0.97 1)">5</text>
<text transform="translate(420.00 439.0) scale(0.97 1)">8</text>
<text transform="translate(432.94 439.0) scale(0.97 1)">3</text>
<text transform="translate(446.85 439.0) scale(0.97 1)">8</text>
<text transform="translate(459.79 439.0) scale(0.97 1)">3</text>
<text transform="translate(472.73 439.0) scale(0.97 1)">7</text>
<text transform="translate(189.60 444.0) scale(0.97 1)">8</text>
<text transform="translate(202.06 444.0) scale(0.97 1)">3</text>
<text transform="translate(215.48 444.0) scale(0.97 1)">8</text>
<text transform="translate(228.91 444.0) scale(0.97 1)">8</text>
<text transform="translate(241.36 444.0) scale(0.97 1)">2</text>
<text transform="translate(271.10 445.6) scale(0.97 1)">8</text>
<text transform="translate(283.37 445.6) scale(0.97 1)">3</text>
<text transform="translate(296.62 445.6) scale(0.97 1)">8</text>
<text transform="translate(308.89 445.6) scale(0.97 1)">7</text>
<text transform="translate(321.16 445.6) scale(0.97 1)">6</text>
<text transform="translate(316.00 489.2) scale(0.97 1)">8</text>
<text transform="translate(328.64 489.2) scale(0.97 1)">3</text>
<text transform="translate(342.25 489.2) scale(0.97 1)">8</text>
<text transform="translate(354.89 489.2) scale(0.97 1)">3</text>
<path d="M372.70 489.20V474.60L369.10 478.40" stroke="#000" stroke-width="2.1" fill="none" stroke-linejoin="bevel"/>
<path d="M79.80 477.00V462.40L76.20 466.20" stroke="#000" stroke-width="2.1" fill="none" stroke-linejoin="bevel"/>
<text transform="translate(81.46 477.0) scale(0.97 1)">3</text>
<text transform="translate(94.74 477.0) scale(0.97 1)">6</text>
<text transform="translate(108.01 477.0) scale(0.97 1)">0</text>
<text transform="translate(121.29 477.0) scale(0.82 1)">G</text>
<text transform="translate(135.22 477.0) scale(0.82 1)">E</text>
<path d="M84.20 499.60V485.00L80.60 488.80" stroke="#000" stroke-width="2.1" fill="none" stroke-linejoin="bevel"/>
<text transform="translate(86.26 499.6) scale(0.97 1)">3</text>
<path d="M104.13 499.60V485.00L100.53 488.80" stroke="#000" stroke-width="2.1" fill="none" stroke-linejoin="bevel"/>
<text transform="translate(107.16 499.6) scale(0.97 1)">0</text>
<text transform="translate(120.01 499.6) scale(0.82 1)">H</text>
<text transform="translate(133.52 499.6) scale(0.82 1)">B</text>
<path d="M84.20 518.00V503.40L80.60 507.20" stroke="#000" stroke-width="2.1" fill="none" stroke-linejoin="bevel"/>
<text transform="translate(85.81 518.0) scale(0.97 1)">3</text>
<path d="M103.23 518.00V503.40L99.63 507.20" stroke="#000" stroke-width="2.1" fill="none" stroke-linejoin="bevel"/>
<text transform="translate(105.80 518.0) scale(0.97 1)">0</text>
<text transform="translate(119.02 518.0) scale(0.82 1)">C</text>
<text transform="translate(132.90 518.0) scale(0.92 1)">A</text>
<path d="M237.20 477.60V463.00L233.60 466.80" stroke="#000" stroke-width="2.1" fill="none" stroke-linejoin="bevel"/>
<path d="M243.57 477.60V463.00L239.97 466.80" stroke="#000" stroke-width="2.1" fill="none" stroke-linejoin="bevel"/>
<text transform="translate(244.78 477.6) scale(0.97 1)">2</text>
<text transform="translate(257.59 477.6) scale(0.97 1)">0</text>
<text transform="translate(270.41 477.6) scale(0.82 1)">G</text>
<text transform="translate(283.70 477.6) scale(1.00 1)">I</text>
<text transform="translate(41.80 569.0) scale(0.97 1)">8</text>
<text transform="translate(53.96 569.0) scale(0.97 1)">3</text>
<text transform="translate(67.09 569.0) scale(0.97 1)">8</text>
<text transform="translate(80.23 569.0) scale(0.97 1)">4</text>
<text transform="translate(93.36 569.0) scale(0.97 1)">9</text>
<text transform="translate(635.60 575.4) scale(0.97 1)">8</text>
<text transform="translate(647.98 575.4) scale(0.97 1)">3</text>
<text transform="translate(661.33 575.4) scale(0.97 1)">8</text>
<text transform="translate(673.71 575.4) scale(0.97 1)">2</text>
<text transform="translate(687.06 575.4) scale(0.97 1)">4</text>
<text transform="translate(691.50 597.7) scale(0.97 1)">8</text>
<text transform="translate(704.15 597.7) scale(0.97 1)">3</text>
<text transform="translate(717.78 597.7) scale(0.97 1)">8</text>
<text transform="translate(730.43 597.7) scale(0.97 1)">5</text>
<text transform="translate(744.06 597.7) scale(0.97 1)">0</text>
<path d="M203.20 621.50V606.90L199.60 610.70" stroke="#000" stroke-width="2.1" fill="none" stroke-linejoin="bevel"/>
<text transform="translate(205.20 621.5) scale(0.97 1)">3</text>
<text transform="translate(217.84 621.5) scale(0.97 1)">5</text>
<path d="M235.66 621.50V606.90L232.06 610.70" stroke="#000" stroke-width="2.1" fill="none" stroke-linejoin="bevel"/>
<text transform="translate(238.63 621.5) scale(0.82 1)">C</text>
<text transform="translate(252.90 621.5) scale(0.92 1)">A</text>
<path d="M782.20 642.80V628.20L778.60 632.00" stroke="#000" stroke-width="2.1" fill="none" stroke-linejoin="bevel"/>
<text transform="translate(784.16 642.8) scale(0.97 1)">3</text>
<text transform="translate(796.75 642.8) scale(0.97 1)">7</text>
<path d="M813.55 642.80V628.20L809.95 632.00" stroke="#000" stroke-width="2.1" fill="none" stroke-linejoin="bevel"/>
<text transform="translate(816.47 642.8) scale(0.82 1)">C</text>
<text transform="translate(830.70 642.8) scale(0.82 1)">C</text>
<path d="M90.00 672.00V657.40L86.40 661.20" stroke="#000" stroke-width="2.1" fill="none" stroke-linejoin="bevel"/>
<text transform="translate(92.55 672.0) scale(0.97 1)">4</text>
<path d="M109.94 672.00V657.40L106.34 661.20" stroke="#000" stroke-width="2.1" fill="none" stroke-linejoin="bevel"/>
<text transform="translate(112.50 672.0) scale(0.97 1)">6</text>
<text transform="translate(124.87 672.0) scale(0.82 1)">B</text>
<text transform="translate(137.90 672.0) scale(0.92 1)">A</text>
<path d="M743.20 698.70V684.10L739.60 687.90" stroke="#000" stroke-width="2.1" fill="none" stroke-linejoin="bevel"/>
<text transform="translate(745.23 698.7) scale(0.97 1)">2</text>
<text transform="translate(758.88 698.7) scale(0.97 1)">4</text>
<text transform="translate(771.55 698.7) scale(0.97 1)">3</text>
<text transform="translate(785.20 698.7) scale(0.90 1)">J</text>
<text transform="translate(795.30 698.7) scale(0.90 1)">F</text>
<path d="M743.20 722.00V707.40L739.60 711.20" stroke="#000" stroke-width="2.1" fill="none" stroke-linejoin="bevel"/>
<text transform="translate(744.74 722.0) scale(0.97 1)">2</text>
<text transform="translate(756.92 722.0) scale(0.97 1)">2</text>
<text transform="translate(770.06 722.0) scale(0.97 1)">9</text>
<text transform="translate(782.31 722.0) scale(0.90 1)">F</text>
<text transform="translate(794.70 722.0) scale(0.82 1)">H</text>
<text transform="translate(665.50 702.0) scale(0.97 1)">8</text>
<text transform="translate(678.08 702.0) scale(0.97 1)">3</text>
<text transform="translate(691.63 702.0) scale(0.97 1)">8</text>
<path d="M709.39 702.00V687.40L705.79 691.20" stroke="#000" stroke-width="2.1" fill="none" stroke-linejoin="bevel"/>
<path d="M716.50 702.00V687.40L712.90 691.20" stroke="#000" stroke-width="2.1" fill="none" stroke-linejoin="bevel"/>
<text transform="translate(552.60 722.0) scale(0.97 1)">8</text>
<text transform="translate(564.91 722.0) scale(0.97 1)">3</text>
<text transform="translate(578.20 722.0) scale(0.97 1)">8</text>
<path d="M595.68 722.00V707.40L592.08 711.20" stroke="#000" stroke-width="2.1" fill="none" stroke-linejoin="bevel"/>
<text transform="translate(597.36 722.0) scale(0.97 1)">2</text>
<text transform="translate(268.40 746.7) scale(0.97 1)">8</text>
<text transform="translate(280.75 746.7) scale(0.97 1)">3</text>
<text transform="translate(294.08 746.7) scale(0.97 1)">8</text>
<text transform="translate(306.43 746.7) scale(0.97 1)">3</text>
<text transform="translate(319.76 746.7) scale(0.97 1)">6</text>
<text transform="translate(438.00 748.7) scale(0.97 1)">8</text>
<text transform="translate(450.51 748.7) scale(0.97 1)">3</text>
<text transform="translate(463.99 748.7) scale(0.97 1)">8</text>
<path d="M481.66 748.70V734.10L478.06 737.90" stroke="#000" stroke-width="2.1" fill="none" stroke-linejoin="bevel"/>
<path d="M488.70 748.70V734.10L485.10 737.90" stroke="#000" stroke-width="2.1" fill="none" stroke-linejoin="bevel"/>
<text transform="translate(508.60 768.7) scale(0.97 1)">8</text>
<text transform="translate(521.17 768.7) scale(0.97 1)">3</text>
<text transform="translate(534.72 768.7) scale(0.97 1)">8</text>
<text transform="translate(547.29 768.7) scale(0.97 1)">5</text>
<path d="M565.04 768.70V754.10L561.44 757.90" stroke="#000" stroke-width="2.1" fill="none" stroke-linejoin="bevel"/>
<text transform="translate(567.12 768.7) scale(0.82 1)">B</text>
<text transform="translate(442.00 794.0) scale(0.97 1)">8</text>
<text transform="translate(454.73 794.0) scale(0.97 1)">3</text>
<text transform="translate(468.43 794.0) scale(0.97 1)">8</text>
<text transform="translate(482.13 794.0) scale(0.97 1)">4</text>
<text transform="translate(494.86 794.0) scale(0.97 1)">3</text>
<text transform="translate(632.40 788.4) scale(0.97 1)">8</text>
<text transform="translate(644.78 788.4) scale(0.97 1)">3</text>
<text transform="translate(658.14 788.4) scale(0.97 1)">8</text>
<text transform="translate(671.49 788.4) scale(0.97 1)">4</text>
<text transform="translate(684.85 788.4) scale(0.97 1)">0</text>
<text transform="translate(698.20 788.4) scale(0.92 1)">A</text>
<text transform="translate(357.00 833.0) scale(0.97 1)">8</text>
<text transform="translate(369.25 833.0) scale(0.97 1)">3</text>
<text transform="translate(382.48 833.0) scale(0.97 1)">8</text>
<text transform="translate(394.74 833.0) scale(0.97 1)">3</text>
<text transform="translate(407.96 833.0) scale(0.97 1)">8</text>
<text transform="translate(727.00 832.0) scale(0.97 1)">8</text>
<text transform="translate(739.70 832.0) scale(0.97 1)">3</text>
<text transform="translate(753.38 832.0) scale(0.97 1)">8</text>
<text transform="translate(766.08 832.0) scale(0.97 1)">5</text>
<text transform="translate(779.76 832.0) scale(0.97 1)">0</text>
<text transform="translate(164.60 894.9) scale(0.97 1)">8</text>
<text transform="translate(176.76 894.9) scale(0.97 1)">3</text>
<text transform="translate(189.89 894.9) scale(0.97 1)">8</text>
<text transform="translate(203.03 894.9) scale(0.97 1)">4</text>
<text transform="translate(216.16 894.9) scale(0.97 1)">9</text>
<text transform="translate(94.00 921.0) scale(0.97 1)">8</text>
<text transform="translate(106.65 921.0) scale(0.97 1)">2</text>
<text transform="translate(120.26 921.0) scale(0.97 1)">8</text>
<text transform="translate(132.91 921.0) scale(0.97 1)">7</text>
<text transform="translate(144.58 921.0) scale(0.97 1)">3</text>
<text transform="translate(158.20 921.0) scale(0.92 1)">A</text>
<text transform="translate(580.60 938.9) scale(0.97 1)">8</text>
<text transform="translate(593.10 938.9) scale(0.97 1)">3</text>
<text transform="translate(606.57 938.9) scale(0.97 1)">8</text>
<text transform="translate(619.06 938.9) scale(0.97 1)">2</text>
<text transform="translate(631.56 938.9) scale(0.97 1)">3</text>
<text transform="translate(504.50 959.2) scale(0.97 1)">8</text>
<text transform="translate(516.26 959.2) scale(0.97 1)">3</text>
<text transform="translate(528.99 959.2) scale(0.97 1)">8</text>
<text transform="translate(540.75 959.2) scale(0.97 1)">2</text>
<text transform="translate(552.51 959.2) scale(0.97 1)">2</text>
<text transform="translate(565.24 959.2) scale(0.86 1)">Q</text>
<path d="M217.60 1002.90V988.30L214.00 992.10" stroke="#000" stroke-width="2.1" fill="none" stroke-linejoin="bevel"/>
<text transform="translate(220.03 1002.9) scale(0.97 1)">4</text>
<path d="M237.30 1002.90V988.30L233.70 992.10" stroke="#000" stroke-width="2.1" fill="none" stroke-linejoin="bevel"/>
<text transform="translate(239.74 1002.9) scale(0.97 1)">6</text>
<text transform="translate(251.99 1002.9) scale(0.82 1)">B</text>
<text transform="translate(264.90 1002.9) scale(0.92 1)">A</text>
<path d="M792.50 1009.50V994.90L788.90 998.70" stroke="#000" stroke-width="2.1" fill="none" stroke-linejoin="bevel"/>
<text transform="translate(794.44 1009.5) scale(0.97 1)">3</text>
<text transform="translate(807.01 1009.5) scale(0.97 1)">7</text>
<path d="M823.79 1009.50V994.90L820.19 998.70" stroke="#000" stroke-width="2.1" fill="none" stroke-linejoin="bevel"/>
<text transform="translate(826.69 1009.5) scale(0.82 1)">C</text>
<text transform="translate(840.90 1009.5) scale(0.82 1)">C</text>
<text transform="translate(150.20 1033.3) scale(0.97 1)">8</text>
<text transform="translate(162.88 1033.3) scale(0.97 1)">3</text>
<text transform="translate(176.53 1033.3) scale(0.97 1)">8</text>
<text transform="translate(190.18 1033.3) scale(0.97 1)">0</text>
<text transform="translate(202.86 1033.3) scale(0.97 1)">3</text>
<text transform="translate(659.40 1083.6) scale(0.97 1)">8</text>
<text transform="translate(671.83 1083.6) scale(0.97 1)">3</text>
<text transform="translate(685.24 1083.6) scale(0.97 1)">8</text>
<path d="M702.84 1083.60V1069.00L699.24 1072.80" stroke="#000" stroke-width="2.1" fill="none" stroke-linejoin="bevel"/>
<path d="M709.80 1083.60V1069.00L706.20 1072.80" stroke="#000" stroke-width="2.1" fill="none" stroke-linejoin="bevel"/>
<path d="M755.90 1071.00V1056.40L752.30 1060.20" stroke="#000" stroke-width="2.1" fill="none" stroke-linejoin="bevel"/>
<text transform="translate(757.53 1071.0) scale(0.97 1)">2</text>
<text transform="translate(770.78 1071.0) scale(0.97 1)">4</text>
<text transform="translate(783.05 1071.0) scale(0.97 1)">3</text>
<text transform="translate(796.30 1071.0) scale(0.90 1)">J</text>
<text transform="translate(806.00 1071.0) scale(0.90 1)">F</text>
<path d="M755.90 1094.00V1079.40L752.30 1083.20" stroke="#000" stroke-width="2.1" fill="none" stroke-linejoin="bevel"/>
<text transform="translate(757.24 1094.0) scale(0.97 1)">2</text>
<text transform="translate(769.22 1094.0) scale(0.97 1)">2</text>
<text transform="translate(782.16 1094.0) scale(0.97 1)">9</text>
<text transform="translate(794.21 1094.0) scale(0.90 1)">F</text>
<text transform="translate(806.40 1094.0) scale(0.82 1)">H</text>
<text transform="translate(460.00 1123.0) scale(0.97 1)">8</text>
<text transform="translate(472.35 1123.0) scale(0.97 1)">3</text>
<text transform="translate(485.68 1123.0) scale(0.97 1)">8</text>
<text transform="translate(498.03 1123.0) scale(0.97 1)">3</text>
<text transform="translate(511.36 1123.0) scale(0.97 1)">4</text>
<text transform="translate(460.00 1143.5) scale(0.97 1)">8</text>
<text transform="translate(472.60 1143.5) scale(0.97 1)">3</text>
<text transform="translate(486.17 1143.5) scale(0.97 1)">8</text>
<text transform="translate(498.76 1143.5) scale(0.97 1)">3</text>
<text transform="translate(511.36 1143.5) scale(0.97 1)">5</text>
<text transform="translate(555.00 1130.0) scale(0.97 1)">8</text>
<text transform="translate(567.66 1130.0) scale(0.97 1)">3</text>
<text transform="translate(581.30 1130.0) scale(0.97 1)">8</text>
<path d="M599.13 1130.00V1115.40L595.53 1119.20" stroke="#000" stroke-width="2.1" fill="none" stroke-linejoin="bevel"/>
<text transform="translate(601.16 1130.0) scale(0.97 1)">2</text>
<text transform="translate(516.40 1170.0) scale(0.97 1)">8</text>
<text transform="translate(528.74 1170.0) scale(0.97 1)">3</text>
<text transform="translate(542.05 1170.0) scale(0.97 1)">8</text>
<text transform="translate(554.39 1170.0) scale(0.97 1)">7</text>
<path d="M570.93 1170.00V1155.40L567.33 1159.20" stroke="#000" stroke-width="2.1" fill="none" stroke-linejoin="bevel"/>
<text transform="translate(573.60 1170.0) scale(0.92 1)">A</text>
</g>
</svg></body></html>
